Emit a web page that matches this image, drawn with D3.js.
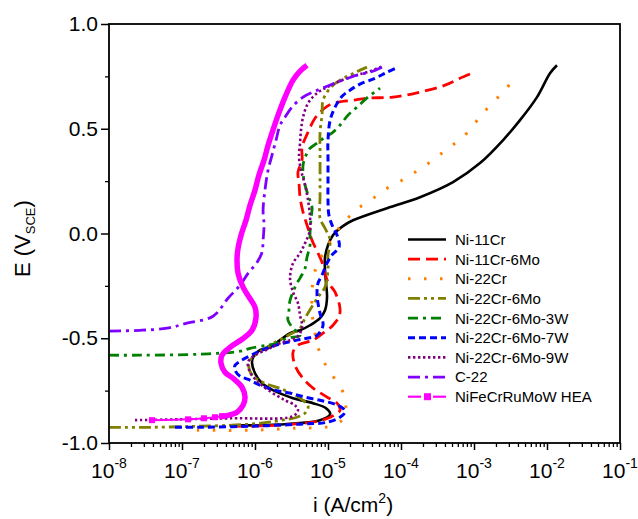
<!DOCTYPE html>
<html><head><meta charset="utf-8">
<script src="https://cdn.jsdelivr.net/npm/d3@7"></script>
<style>
body{margin:0;background:#fff}
svg{display:block}
text{font-family:"Liberation Sans",Arial,Helvetica,sans-serif;fill:#000}
</style>
</head><body>
<svg id="chart" width="638" height="519"></svg>
<script>
// ---- data: [current density i (A/cm^2), potential E (V_SCE)] ----
const seriesNames = ["Ni-11Cr","Ni-11Cr-6Mo","Ni-22Cr","Ni-22Cr-6Mo","Ni-22Cr-6Mo-3W","Ni-22Cr-6Mo-7W","Ni-22Cr-6Mo-9W","C-22","NiFeCrRuMoW HEA"];

const ni11Cr = [[5.3e-7,-0.915],[1.29e-6,-0.915],[3.76e-6,-0.906],[7.78e-6,-0.891],[1.07e-5,-0.863],[9.4e-6,-0.834],[6.24e-6,-0.810],[3.32e-6,-0.786],[1.76e-6,-0.748],[1.25e-6,-0.715],[1.0e-6,-0.667],[9.1e-7,-0.619],[9.4e-7,-0.591],[1.17e-6,-0.557],[1.6e-6,-0.543],[2.2e-6,-0.509],[3.02e-6,-0.476],[4.14e-6,-0.462],[5.67e-6,-0.438],[7.78e-6,-0.404],[9.1e-6,-0.366],[9.7e-6,-0.304],[9.4e-6,-0.237],[9.1e-6,-0.175],[9.1e-6,-0.113],[1.0e-5,-0.056],[1.17e-5,-0.008],[1.6e-5,0.035],[2.2e-5,0.063],[6.44e-5,0.121],[1.82e-4,0.173],[5.16e-4,0.245],[1.21e-3,0.336],[2.49e-3,0.445],[4.27e-3,0.541],[7.3e-3,0.651],[1.10e-2,0.765],[1.37e-2,0.803]];

const ni11Cr6Mo = [[5.0e-7,-0.920],[2.2e-6,-0.915],[7.07e-6,-0.896],[1.07e-5,-0.877],[1.46e-5,-0.844],[1.33e-5,-0.810],[9.7e-6,-0.781],[6.04e-6,-0.734],[4.41e-6,-0.686],[3.53e-6,-0.629],[3.32e-6,-0.567],[3.88e-6,-0.533],[6.24e-6,-0.509],[8.55e-6,-0.476],[1.17e-5,-0.438],[1.42e-5,-0.395],[1.46e-5,-0.357],[1.25e-5,-0.280],[1.0e-5,-0.232],[8.28e-6,-0.137],[7.3e-6,-0.094],[6.04e-6,-0.032],[5.33e-6,0.025],[4.55e-6,0.102],[4.14e-6,0.173],[4.01e-6,0.240],[3.88e-6,0.293],[4.41e-6,0.350],[4.41e-6,0.412],[5.33e-6,0.484],[6.64e-6,0.550],[9.7e-6,0.607],[1.37e-5,0.627],[2.2e-5,0.636],[3.42e-5,0.646],[7.78e-5,0.651],[1.82e-4,0.675],[4.01e-4,0.708],[6.44e-4,0.741],[9.4e-4,0.765]];

const ni22Cr = [[1.6e-7,-0.939],[8.55e-7,-0.939],[3.76e-6,-0.929],[1.07e-5,-0.920],[1.6e-5,-0.887],[1.76e-5,-0.844],[1.71e-5,-0.805],[1.56e-5,-0.748],[1.07e-5,-0.662],[8.28e-6,-0.595],[7.07e-6,-0.524],[6.44e-6,-0.447],[6.04e-6,-0.376],[6.04e-6,-0.295],[6.24e-6,-0.223],[7.07e-6,-0.151],[9.1e-6,-0.080],[1.25e-5,0.001],[1.71e-5,0.059],[2.49e-5,0.116],[4.01e-5,0.164],[6.44e-5,0.216],[1.03e-4,0.254],[1.71e-4,0.302],[2.74e-4,0.350],[4.41e-4,0.407],[7.07e-4,0.460],[1.03e-3,0.527],[1.33e-3,0.574],[1.94e-3,0.636],[2.83e-3,0.694],[3.65e-3,0.765]];

const ni22Cr6Mo = [[1.0e-8,-0.925],[3.65e-8,-0.925],[1.76e-7,-0.920],[8.55e-7,-0.910],[2.34e-6,-0.891],[3.76e-6,-0.877],[5.0e-6,-0.853],[5.33e-6,-0.824],[4.14e-6,-0.786],[2.34e-6,-0.743],[1.37e-6,-0.715],[9.4e-7,-0.681],[8.28e-7,-0.643],[8.55e-7,-0.605],[1.10e-6,-0.571],[1.71e-6,-0.528],[3.02e-6,-0.481],[4.14e-6,-0.452],[4.85e-6,-0.404],[7.3e-6,-0.304],[9.1e-6,-0.256],[1.0e-5,-0.175],[1.0e-5,-0.103],[1.07e-5,-0.032],[9.1e-6,0.025],[7.78e-6,0.073],[7.78e-6,0.173],[7.78e-6,0.278],[7.78e-6,0.398],[7.78e-6,0.484],[8.28e-6,0.565],[8.55e-6,0.636],[1.07e-5,0.694],[1.46e-5,0.732],[2.0e-5,0.756],[2.58e-5,0.775],[3.42e-5,0.794]];

const ni22Cr6Mo3W = [[1.0e-8,-0.581],[2.66e-8,-0.581],[1.76e-7,-0.576],[6.24e-7,-0.562],[8.55e-7,-0.548],[1.46e-6,-0.533],[2.0e-6,-0.524],[2.74e-6,-0.500],[4.14e-6,-0.486],[3.32e-6,-0.452],[2.83e-6,-0.414],[2.92e-6,-0.366],[3.02e-6,-0.319],[3.76e-6,-0.237],[4.14e-6,-0.213],[4.85e-6,-0.166],[5.16e-6,-0.113],[5.67e-6,-0.056],[5.67e-6,0.001],[5.86e-6,0.073],[6.04e-6,0.126],[5.33e-6,0.183],[4.69e-6,0.254],[4.55e-6,0.326],[5.0e-6,0.374],[5.67e-6,0.407],[7.07e-6,0.431],[9.1e-6,0.460],[1.13e-5,0.479],[1.46e-5,0.517],[1.88e-5,0.565],[2.49e-5,0.603],[3.53e-5,0.651],[5.16e-5,0.694]];

const ni22Cr6Mo7W = [[8.03e-8,-0.925],[1.76e-7,-0.925],[8.55e-7,-0.920],[4.14e-6,-0.910],[9.7e-6,-0.901],[1.46e-5,-0.877],[1.71e-5,-0.853],[1.6e-5,-0.834],[1.25e-5,-0.815],[7.78e-6,-0.796],[4.85e-6,-0.781],[3.02e-6,-0.762],[1.88e-6,-0.748],[1.17e-6,-0.724],[8.55e-7,-0.700],[6.24e-7,-0.681],[5.33e-7,-0.653],[5.33e-7,-0.629],[6.24e-7,-0.610],[1.07e-6,-0.567],[1.6e-6,-0.543],[2.42e-6,-0.524],[3.76e-6,-0.509],[5.16e-6,-0.500],[7.07e-6,-0.486],[8.55e-6,-0.438],[7.78e-6,-0.381],[7.3e-6,-0.333],[7.07e-6,-0.285],[7.3e-6,-0.237],[8.28e-6,-0.199],[9.4e-6,-0.151],[1.13e-5,-0.103],[1.42e-5,-0.065],[1.33e-5,-0.008],[1.17e-5,0.030],[1.03e-5,0.087],[1.0e-5,0.159],[1.0e-5,0.254],[1.0e-5,0.350],[1.0e-5,0.445],[1.07e-5,0.541],[1.25e-5,0.603],[1.56e-5,0.655],[2.0e-5,0.684],[2.74e-5,0.713],[4.41e-5,0.741],[6.44e-5,0.770],[9.1e-5,0.794]];

const ni22Cr6Mo9W = [[2.27e-8,-0.891],[9.4e-8,-0.887],[4.55e-7,-0.882],[3.32e-6,-0.872],[3.88e-6,-0.844],[3.53e-6,-0.820],[2.58e-6,-0.796],[1.6e-6,-0.753],[1.07e-6,-0.705],[8.55e-7,-0.662],[8.03e-7,-0.614],[1.0e-6,-0.581],[1.51e-6,-0.552],[2.2e-6,-0.524],[3.76e-6,-0.495],[4.41e-6,-0.447],[4.14e-6,-0.390],[3.88e-6,-0.333],[3.32e-6,-0.280],[3.02e-6,-0.213],[3.32e-6,-0.142],[4.14e-6,-0.094],[4.85e-6,-0.046],[5.67e-6,0.016],[5.67e-6,0.078],[5.33e-6,0.159],[4.85e-6,0.231],[4.27e-6,0.302],[4.01e-6,0.364],[4.14e-6,0.431],[4.27e-6,0.493],[4.55e-6,0.555],[5.33e-6,0.622],[7.07e-6,0.670],[9.7e-6,0.698],[1.56e-5,0.732],[2.49e-5,0.756],[3.76e-5,0.775],[5.67e-5,0.799]];

const c22 = [[1.0e-8,-0.466],[2.66e-8,-0.462],[6.24e-8,-0.452],[1.17e-7,-0.428],[2.66e-7,-0.395],[4.27e-7,-0.309],[6.24e-7,-0.247],[8.03e-7,-0.190],[1.07e-6,-0.137],[1.25e-6,-0.089],[1.29e-6,-0.032],[1.33e-6,0.040],[1.29e-6,0.111],[1.37e-6,0.207],[1.51e-6,0.302],[1.71e-6,0.374],[1.94e-6,0.445],[2.2e-6,0.517],[2.58e-6,0.555],[3.21e-6,0.603],[4.55e-6,0.651],[6.64e-6,0.679],[9.7e-6,0.703],[1.6e-5,0.732],[2.49e-5,0.756],[3.76e-5,0.770],[5.5e-5,0.794]];

const hea = [[3.88e-8,-0.891],[1.21e-7,-0.887],[2.0e-7,-0.882],[2.83e-7,-0.877],[3.53e-7,-0.872],[4.27e-7,-0.868],[5.67e-7,-0.853],[6.86e-7,-0.820],[7.3e-7,-0.781],[6.64e-7,-0.734],[5.0e-7,-0.691],[3.88e-7,-0.662],[3.42e-7,-0.619],[3.53e-7,-0.581],[4.55e-7,-0.543],[6.64e-7,-0.505],[9.1e-7,-0.462],[1.03e-6,-0.404],[1.0e-6,-0.352],[8.28e-7,-0.304],[6.86e-7,-0.256],[5.86e-7,-0.190],[5.67e-7,-0.127],[5.86e-7,-0.070],[6.44e-7,-0.008],[7.54e-7,0.064],[8.55e-7,0.135],[1.0e-6,0.207],[1.13e-6,0.278],[1.33e-6,0.350],[1.51e-6,0.421],[1.76e-6,0.493],[2.07e-6,0.565],[2.58e-6,0.651],[3.32e-6,0.732],[4.14e-6,0.775],[5.16e-6,0.803]];

const xTickValues = [1e-8,1e-7,1e-6,1e-5,1e-4,1e-3,1e-2,1e-1];
const xTickExponents = ["-8","-7","-6","-5","-4","-3","-2","-1"];
const yTickValues = [-1.0,-0.5,0.0,0.5,1.0];
const yTickLabels = ["-1.0","-0.5","0.0","0.5","1.0"];
const yMinorValues = [-0.75,-0.25,0.25,0.75];

// ---- styles ----
const styles = [
  {data: ni11Cr,      color:"#000000", width:2.6, dash:null},
  {data: ni11Cr6Mo,   color:"#FF0000", width:2.8, dash:"12,6"},
  {data: ni22Cr,      color:"#FF8000", width:3,   dash:"2.5,13.5"},
  {data: ni22Cr6Mo,   color:"#808000", width:2.8, dash:"12,4,3,4,3,4"},
  {data: ni22Cr6Mo3W, color:"#008000", width:2.8, dash:"10,5,3,5"},
  {data: ni22Cr6Mo7W, color:"#0000FF", width:3,   dash:"7,4"},
  {data: ni22Cr6Mo9W, color:"#800080", width:2.6, dash:"2.4,2.6"},
  {data: c22,         color:"#8000FF", width:2.8, dash:"12,5,3,5"},
  {data: hea,         color:"#FF00FF", width:2,   dash:null}
];

const svg = d3.select("#chart");
const m = {left:109, right:620, top:24, bottom:443};
const x = d3.scaleLog().domain([1e-8,1e-1]).range([m.left, m.right]);
const y = d3.scaleLinear().domain([-1,1]).range([m.bottom, m.top]);

svg.append("defs").append("clipPath").attr("id","clip")
  .append("rect").attr("x",m.left).attr("y",m.top)
  .attr("width",m.right-m.left).attr("height",m.bottom-m.top);

const line = d3.line().x(d=>x(d[0])).y(d=>y(d[1])).curve(d3.curveCatmullRom.alpha(0.5));

const plot = svg.append("g").attr("clip-path","url(#clip)");
styles.forEach((s,i)=>{
  if (i===8) return;
  plot.append("path").datum(s.data)
    .attr("d",line).attr("fill","none")
    .attr("stroke",s.color).attr("stroke-width",s.width)
    .attr("stroke-dasharray",s.dash).attr("stroke-linejoin","round");
});
// HEA: sparse markers at the cathodic tail, dense (thick) trace elsewhere
const heaSparse = 5;
plot.append("path").datum(hea.slice(0,heaSparse+1))
  .attr("d",line).attr("fill","none").attr("stroke","#FF00FF").attr("stroke-width",2);
plot.append("path").datum(hea.slice(heaSparse-1))
  .attr("d",line).attr("fill","none").attr("stroke","#FF00FF").attr("stroke-width",5.5)
  .attr("stroke-linejoin","round");
plot.selectAll("rect.hm").data(hea.slice(0,heaSparse)).enter().append("rect")
  .attr("class","hm").attr("x",d=>x(d[0])-3).attr("y",d=>y(d[1])-3)
  .attr("width",6).attr("height",6).attr("fill","#FF00FF");

// ---- axes ----
const xMinor = [];
xTickValues.slice(0,-1).forEach(v=>{ for(let k=2;k<=9;k++) xMinor.push(v*k); });

svg.append("g").attr("transform",`translate(0,${m.bottom})`)
  .call(d3.axisBottom(x).tickValues(xMinor).tickSize(4).tickFormat(""))
  .call(g=>g.select(".domain").remove())
  .selectAll("line").attr("stroke-width",1.3);
const xAx = svg.append("g").attr("transform",`translate(0,${m.bottom})`)
  .call(d3.axisBottom(x).tickValues(xTickValues).tickSize(7).tickFormat(""));
xAx.select(".domain").remove();
xAx.selectAll("line").attr("stroke-width",1.5);

const xl = svg.append("g").selectAll("text").data(xTickValues).enter().append("text")
  .attr("x",d=>x(d)).attr("y",478).attr("text-anchor","middle").attr("font-size",21);
xl.append("tspan").text("10");
xl.append("tspan").attr("dy",-10).attr("font-size",14).text((d,i)=>xTickExponents[i]);

svg.append("g").attr("transform",`translate(${m.left},0)`)
  .call(d3.axisLeft(y).tickValues(yMinorValues).tickSize(4).tickFormat(""))
  .call(g=>g.select(".domain").remove())
  .selectAll("line").attr("stroke-width",1.3);
const yAx = svg.append("g").attr("transform",`translate(${m.left},0)`)
  .call(d3.axisLeft(y).tickValues(yTickValues).tickSize(8).tickPadding(3)
        .tickFormat((d,i)=>yTickLabels[i]));
yAx.select(".domain").remove();
yAx.selectAll("line").attr("stroke-width",1.5);
yAx.selectAll("text").attr("font-size",21).attr("font-family","'Liberation Sans',Arial,sans-serif").attr("fill","#000");

// frame
svg.append("rect").attr("x",m.left).attr("y",m.top)
  .attr("width",m.right-m.left).attr("height",m.bottom-m.top)
  .attr("fill","none").attr("stroke","#000").attr("stroke-width",1.8);

// axis titles
const xt = svg.append("text").attr("x",313).attr("y",512).attr("font-size",21);
xt.append("tspan").text("i (A/cm");
xt.append("tspan").attr("dy",-9).attr("font-size",14).text("2");
xt.append("tspan").attr("dy",9).text(")");

const yt = svg.append("text").attr("transform","translate(30,277) rotate(-90)").attr("font-size",22);
yt.append("tspan").text("E (V");
yt.append("tspan").attr("dy",5).attr("font-size",13).text("SCE");
yt.append("tspan").attr("dy",-5).text(")");

// ---- legend ----
const lg = svg.append("g");
styles.forEach((s,i)=>{
  const ly = 239.5 + i*19.65;
  if (i===8) {
    lg.append("line").attr("x1",408).attr("x2",421).attr("y1",ly).attr("y2",ly)
      .attr("stroke",s.color).attr("stroke-width",2.2);
    lg.append("line").attr("x1",433).attr("x2",446).attr("y1",ly).attr("y2",ly)
      .attr("stroke",s.color).attr("stroke-width",2.2);
    lg.append("rect").attr("x",424).attr("y",ly-3.5).attr("width",7).attr("height",7).attr("fill",s.color);
  } else {
    lg.append("line").attr("x1",408).attr("x2",446).attr("y1",ly).attr("y2",ly)
      .attr("stroke",s.color).attr("stroke-width",s.width)
      .attr("stroke-dasharray",s.dash);
  }
  lg.append("text").attr("x",455).attr("y",ly).attr("dy","0.36em")
    .attr("font-size",15).text(seriesNames[i]);
});
</script>
</body></html>
